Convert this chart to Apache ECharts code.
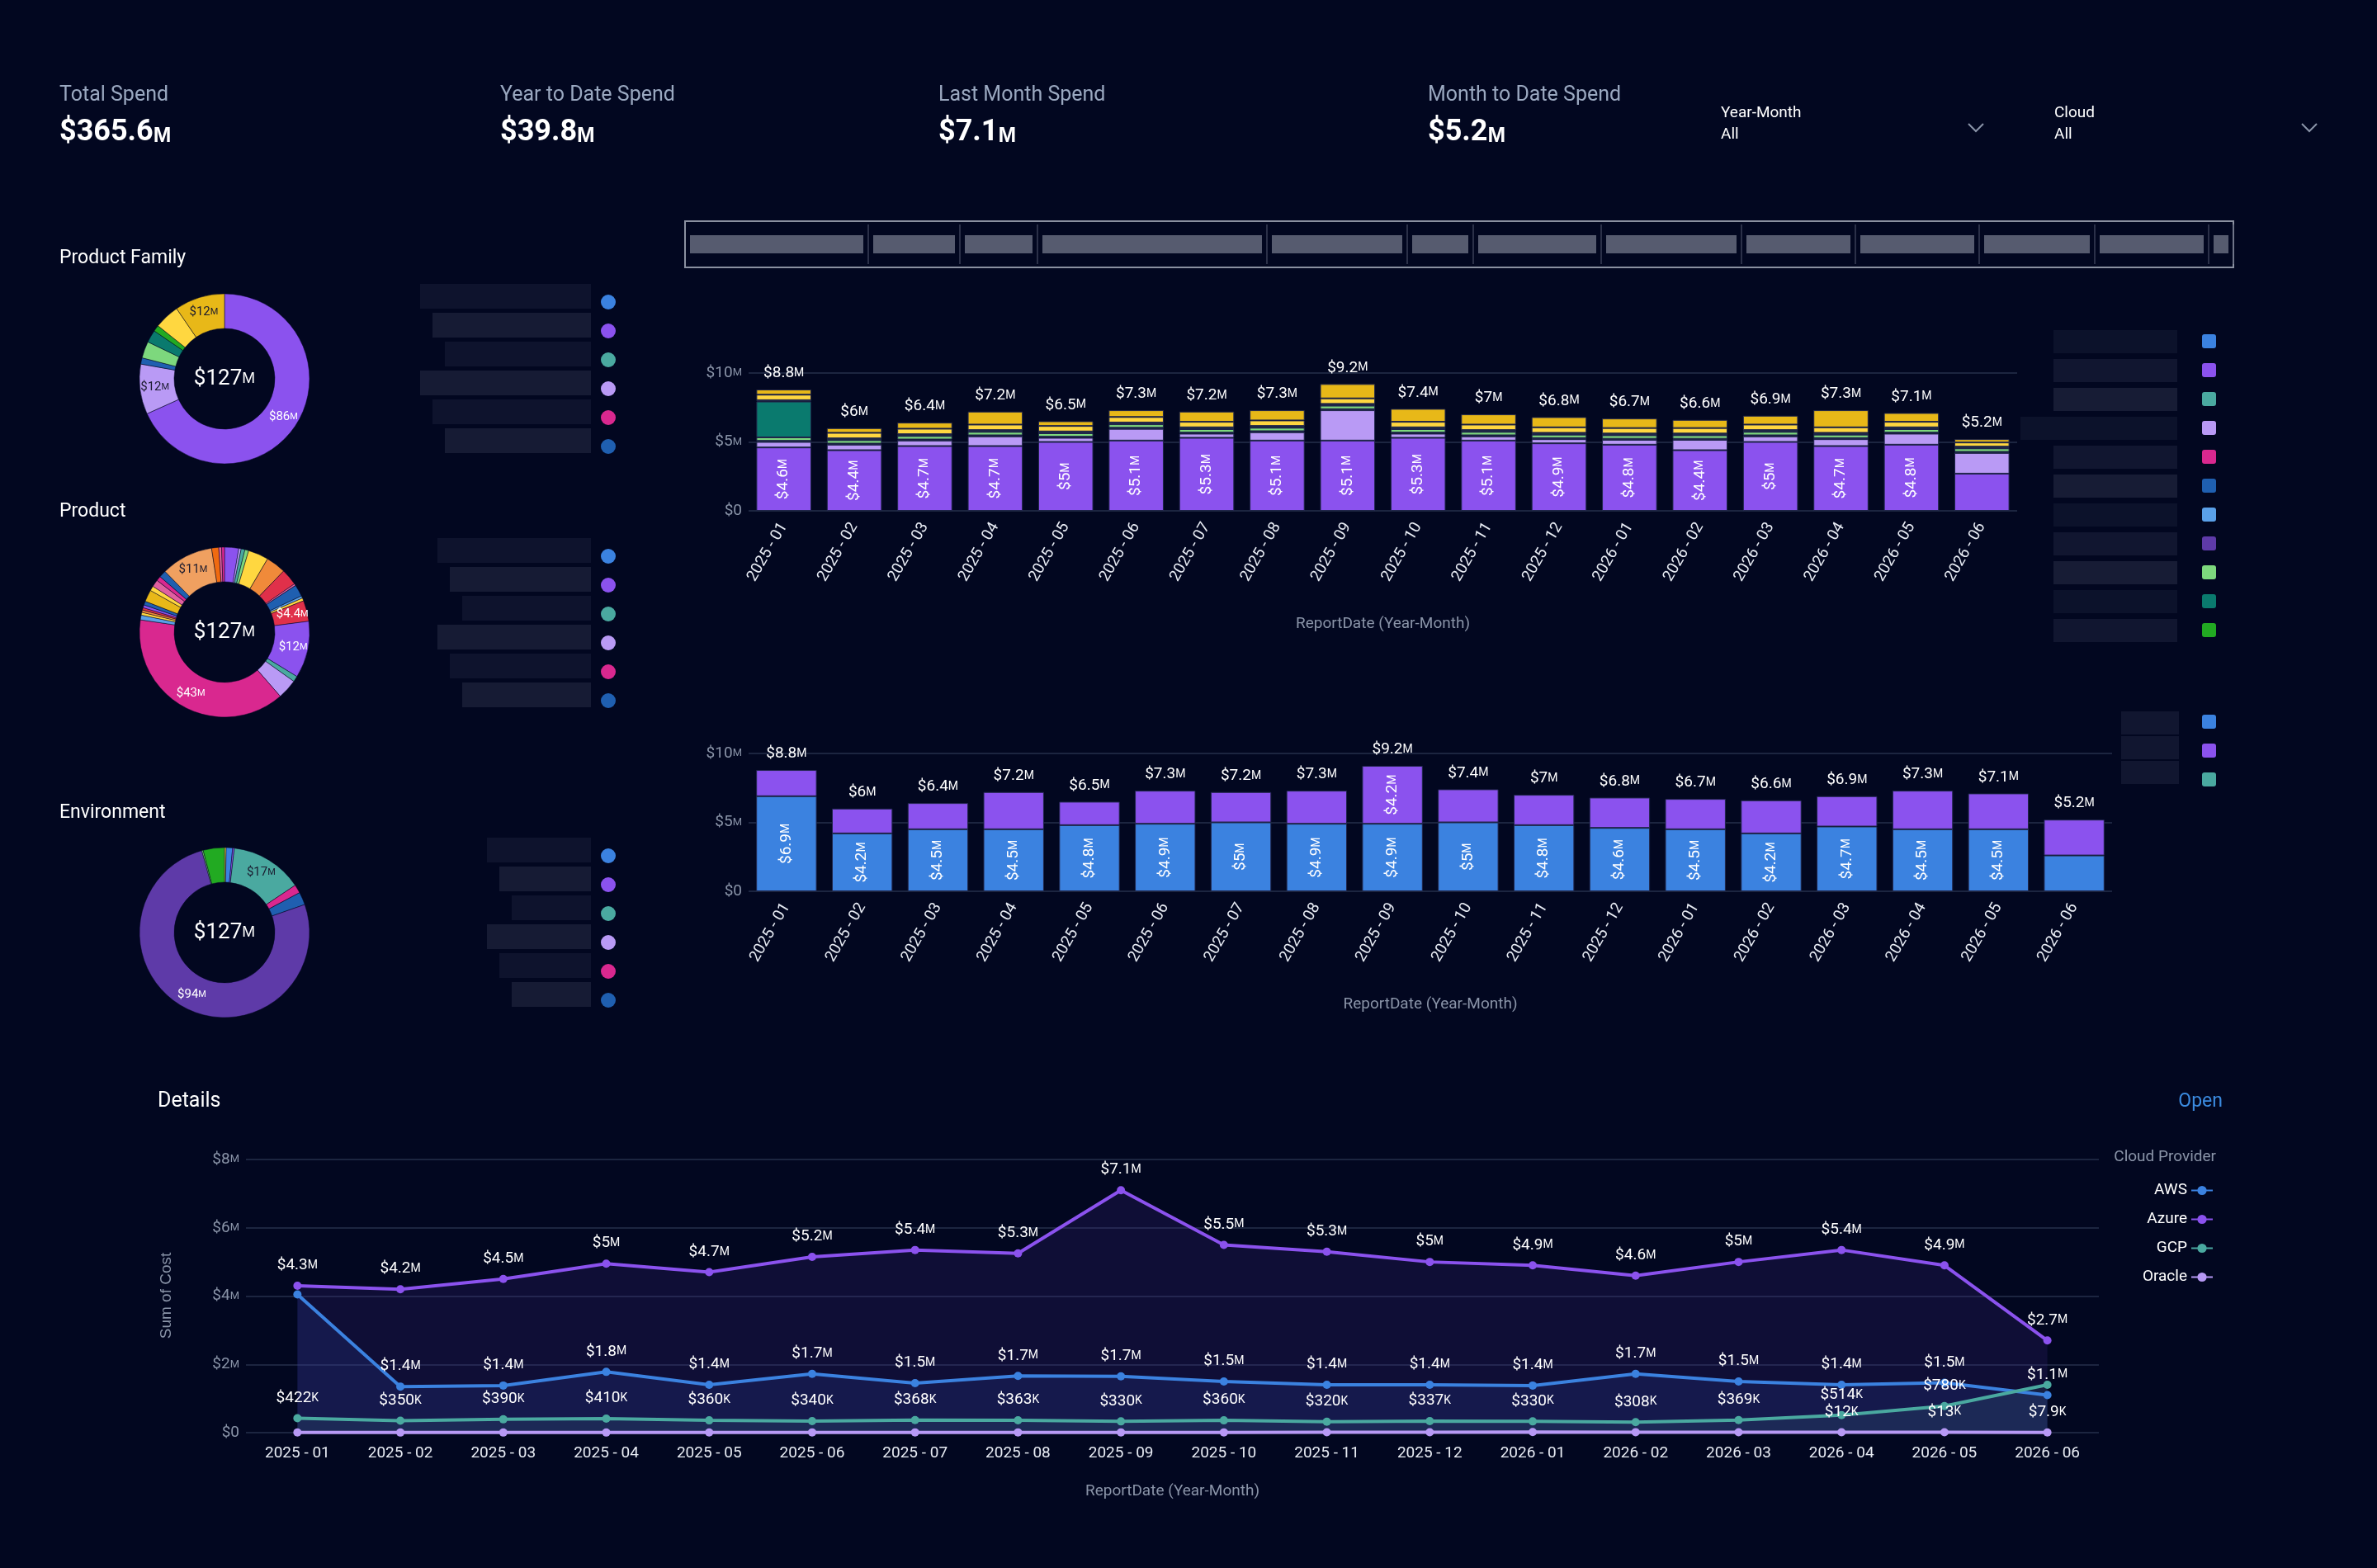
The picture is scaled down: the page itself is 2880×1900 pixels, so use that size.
<!DOCTYPE html>
<html>
<head>
<meta charset="utf-8">
<script src="https://cdn.jsdelivr.net/npm/echarts@6/dist/echarts.min.js"></script>
<style>
  html, body { margin: 0; padding: 0; background: #020720; }
  #main { width: 2880px; height: 1900px; }
</style>
</head>
<body>
<div id="main"></div>
<script>
// ---- data ----
var months = ['2025 - 01','2025 - 02','2025 - 03','2025 - 04','2025 - 05','2025 - 06','2025 - 07','2025 - 08','2025 - 09',
  '2025 - 10','2025 - 11','2025 - 12','2026 - 01','2026 - 02','2026 - 03','2026 - 04','2026 - 05','2026 - 06'];

// first stacked chart (values in $M)
var barTotals   = [8.8, 6, 6.4, 7.2, 6.5, 7.3, 7.2, 7.3, 9.2, 7.4, 7, 6.8, 6.7, 6.6, 6.9, 7.3, 7.1, 5.2];
var famPurple   = [4.6, 4.4, 4.7, 4.7, 5, 5.1, 5.3, 5.1, 5.1, 5.3, 5.1, 4.9, 4.8, 4.4, 5, 4.7, 4.8, 2.7];
var famLavender = [0.4, 0.4, 0.4, 0.7, 0.3, 0.85, 0.3, 0.6, 2.2, 0.3, 0.3, 0.3, 0.35, 0.75, 0.4, 0.5, 0.8, 1.5];
var famDarkBlue = [0.08, 0.08, 0.08, 0.08, 0.08, 0.08, 0.08, 0.08, 0.08, 0.08, 0.08, 0.08, 0.08, 0.08, 0.08, 0.08, 0.08, 0.08];
var famLtGreen  = [0.25, 0.25, 0.25, 0.25, 0.25, 0.25, 0.25, 0.25, 0.25, 0.25, 0.25, 0.25, 0.25, 0.25, 0.25, 0.25, 0.25, 0.25];
var famTeal     = [2.6, 0.03, 0.03, 0.03, 0.03, 0.03, 0.03, 0.03, 0.03, 0.03, 0.03, 0.03, 0.03, 0.03, 0.03, 0.03, 0.03, 0.03];
var famGreen    = [0.1, 0.1, 0.1, 0.1, 0.1, 0.1, 0.1, 0.1, 0.1, 0.1, 0.1, 0.1, 0.1, 0.1, 0.1, 0.1, 0.1, 0.1];
var famYellow   = [0.4, 0.4, 0.4, 0.4, 0.4, 0.4, 0.4, 0.4, 0.4, 0.4, 0.4, 0.4, 0.4, 0.4, 0.4, 0.4, 0.4, 0.3];
var famGold     = [0.37, 0.34, 0.44, 0.94, 0.34, 0.49, 0.74, 0.74, 1.04, 0.94, 0.74, 0.74, 0.69, 0.59, 0.64, 1.24, 0.64, 0.24];

// second stacked chart
var cloudAws   = [6.9, 4.2, 4.5, 4.5, 4.8, 4.9, 5, 4.9, 4.9, 5, 4.8, 4.6, 4.5, 4.2, 4.7, 4.5, 4.5, 2.6];
var cloudAzure = [1.9, 1.8, 1.9, 2.7, 1.7, 2.4, 2.2, 2.4, 4.2, 2.4, 2.2, 2.2, 2.2, 2.4, 2.2, 2.8, 2.6, 2.6];

// line chart
var lineAzure  = [4.3, 4.2, 4.5, 4.95, 4.7, 5.15, 5.35, 5.25, 7.1, 5.5, 5.3, 5.0, 4.9, 4.6, 5.0, 5.35, 4.9, 2.7];
var lineAws    = [4.05, 1.35, 1.38, 1.78, 1.4, 1.72, 1.45, 1.66, 1.65, 1.5, 1.4, 1.4, 1.38, 1.72, 1.5, 1.4, 1.46, 1.1];
var lineGcp    = [0.422, 0.35, 0.39, 0.41, 0.36, 0.34, 0.368, 0.363, 0.33, 0.36, 0.32, 0.337, 0.33, 0.308, 0.369, 0.514, 0.78, 1.4];
var lineOracle = [0.004, 0.0035, 0.0038, 0.0038, 0.0049, 0.0084, 0.0083, 0.0083, 0.0083, 0.0083, 0.012, 0.012, 0.017, 0.015, 0.013, 0.012, 0.013, 0.0079];

// donuts
var familyVals   = [86, 12, 1.5, 4, 3, 1.5, 6, 12];
var familyColors = ['#8b52ee','#b99af5','#1f5fb0','#7dd87d','#0a7a6e','#22aa22','#ffd740','#e8b818'];
var productVals  = [3, 0.5, 0.8, 0.8, 4.3, 4.2, 3.5, 0.4, 2.5, 0.5, 0.6, 4.4, 12, 1.2, 4.2, 43, 1, 0.6, 0.5, 0.5, 0.6, 0.8, 2.5, 1, 1.5, 1, 1.5, 11, 1.5, 0.6, 0.6];
var productColors = ['#8b52ee','#b99af5','#4aa9a0','#7dd87d','#ffd740','#f08a3a','#e0304a','#e060a0','#1f5fb0','#5aa0e8','#ffd740','#e0304a',
  '#8b52ee','#4aa9a0','#b99af5','#d9288f','#5aa0e8','#ffd740','#f08a3a','#e0304a','#8b52ee','#1f5fb0','#e8b818','#ffd740','#e060a0',
  '#d9288f','#1f5fb0','#f0a060','#f06a10','#e060a0','#d9288f'];
var envVals   = [0.4, 1.5, 0.4, 17, 2, 3, 94, 0.3, 5];
var envColors = ['#ffd740','#3b82e0','#8b52ee','#4aa9a0','#d9288f','#1f5fb0','#5e3aa8','#7dd87d','#22aa22'];

var kpiTitles = ['Total Spend','Year to Date Spend','Last Month Spend','Month to Date Spend'];
var kpiValues = ['$365.6', '$39.8', '$7.1', '$5.2'];
var zeros = [0, 0, 0, 0, 0, 0, 0, 0, 0, 0, 0, 0, 0, 0, 0, 0, 0, 0];

// ---- helpers ----
var AX = '#8a94a8';
function money(v) {
  if (v >= 1) return '$' + (Math.round(v * 10) / 10) + '{s|M}';
  var k = v * 1000;
  if (k >= 10) return '$' + Math.round(k) + '{s|K}';
  return '$' + (Math.round(k * 10) / 10) + '{s|K}';
}
function axisMoney(v) { return v === 0 ? '$0' : '$' + v + '{s|M}'; }
var richW = { s: { fontSize: 14, color: '#fff' } };
var richA = { s: { fontSize: 13, color: AX } };
var lightSet = ['#b99af5','#ffd740','#e8b818','#7dd87d','#f0a060','#4aa9a0'];

var chart = echarts.init(document.getElementById('main'));

function yAxis(gi, max, interval) {
  return {
    gridIndex: gi, type: 'value', min: 0, max: max, interval: interval,
    axisLabel: { color: AX, fontSize: 19, formatter: axisMoney, rich: richA },
    splitLine: { lineStyle: { color: '#1c2540', width: 2 } },
    axisLine: { show: false }, axisTick: { show: false }
  };
}
function xAxis(gi, rotate) {
  return {
    gridIndex: gi, type: 'category', data: months,
    name: 'ReportDate (Year-Month)', nameLocation: 'middle',
    nameGap: rotate ? 128 : 62, nameTextStyle: { color: AX, fontSize: 19 },
    axisLabel: { color: '#e8ecf4', fontSize: 19, rotate: rotate, interval: 0, margin: 16 },
    axisLine: { show: false }, axisTick: { show: false }
  };
}
function stackBar(name, data, color, xi, width, labelled) {
  return {
    name: name, type: 'bar', stack: 's' + xi, xAxisIndex: xi, yAxisIndex: xi, data: data, barWidth: width,
    itemStyle: { color: color, borderColor: '#20264a', borderWidth: 1 },
    label: labelled ? {
      show: true, position: 'inside', rotate: 90, color: '#fff', fontSize: 19,
      formatter: function (p) { return p.value >= 3 ? money(p.value) : ''; }, rich: richW
    } : { show: false }
  };
}
function totalSeries(xi, width) {
  return {
    name: 'Total' + xi, type: 'bar', stack: 's' + xi, xAxisIndex: xi, yAxisIndex: xi, data: zeros, barWidth: width,
    itemStyle: { color: 'transparent' },
    label: { show: true, position: 'top', color: '#fff', fontSize: 19, distance: 10,
      formatter: function (p) { return money(barTotals[p.dataIndex]); }, rich: richW }
  };
}
function donut(vals, colors, cx, cy, threshold) {
  return {
    type: 'pie', center: [cx, cy], radius: [61, 103], startAngle: 90,
    data: vals.map(function (v, i) {
      var light = lightSet.indexOf(colors[i]) >= 0;
      return { value: v, itemStyle: { color: colors[i] },
        label: { color: light ? '#1a1a2e' : '#fff' } };
    }),
    itemStyle: { borderColor: '#020720', borderWidth: 0.5 },
    label: { show: true, position: 'inside', fontSize: 15, rich: { s: { fontSize: 11 } },
      formatter: function (p) { return p.value >= threshold ? money(p.value) : ''; } },
    labelLine: { show: false }, emphasis: { disabled: true }, silent: true
  };
}
function lineSeries(name, data, color, area) {
  return {
    name: name, type: 'line', xAxisIndex: 2, yAxisIndex: 2, data: data,
    symbol: 'circle', symbolSize: 10,
    lineStyle: { color: color, width: 4 }, itemStyle: { color: color },
    areaStyle: area ? { color: area, origin: 'start' } : undefined,
    label: { show: true, position: 'top', color: '#fff', fontSize: 19, distance: 10,
      formatter: function (p) { return money(p.value); }, rich: richW },
    labelLayout: { hideOverlap: true }
  };
}

// ---- decorative graphics (titles, blurred legends, boxes) ----
var g = [];
function txt(x, y, s, size, color, align) {
  g.push({ type: 'text', x: x, y: y, style: { text: s, fontSize: size, fill: color,
    fontFamily: 'Roboto, "Noto Sans", sans-serif', textAlign: align || 'left' } });
}
[72, 606, 1137, 1730].forEach(function (x, i) {
  txt(x, 103, kpiTitles[i], 25, '#9aa8c0');
  g.push({ type: 'text', x: x, y: 143, style: { text: kpiValues[i] + '{s|M}', fontSize: 36, fill: '#fff', fontWeight: 'bold',
    fontFamily: 'Roboto, sans-serif', rich: { s: { fontSize: 26, fontWeight: 'bold', fill: '#fff', padding: [8, 0, 0, 0] } } } });
});
[[2085, 'Year-Month', 2394], [2489, 'Cloud', 2798]].forEach(function (f) {
  txt(f[0], 128, f[1], 19, '#fff');
  txt(f[0], 154, 'All', 19, '#fff');
  g.push({ type: 'polyline', shape: { points: [[f[2] - 9, 150], [f[2], 159], [f[2] + 9, 150]] },
    style: { stroke: '#8a94a8', lineWidth: 2, fill: null } });
});
txt(72, 302, 'Product Family', 23, '#fff');
txt(72, 609, 'Product', 23, '#fff');
txt(72, 974, 'Environment', 23, '#fff');
[459, 766, 1130].forEach(function (cy) {
  g.push({ type: 'text', x: 272, y: cy, style: { text: '$127{s|M}', fontSize: 26, fill: '#fff', textAlign: 'center', textVerticalAlign: 'middle',
    fontFamily: 'Roboto, sans-serif', rich: { s: { fontSize: 19, fill: '#fff' } } } });
});
// blurred legend placeholders
var dotCols = ['#3b82e0','#8b52ee','#4aa9a0','#b99af5','#d9288f','#1f5fb0'];
[[366, 509], [674, 530], [1037, 590]].forEach(function (b) {
  for (var r = 0; r < 6; r++) {
    g.push({ type: 'rect', shape: { x: b[1] + (r % 3) * 15, y: b[0] - 22 + r * 35, width: 700 - b[1] + 16 - (r % 3) * 15, height: 30 },
      style: { fill: 'rgba(90,95,120,' + (0.15 + (r % 2) * 0.08) + ')' } });
    g.push({ type: 'circle', shape: { cx: 737, cy: b[0] + r * 35, r: 9 }, style: { fill: dotCols[r] } });
  }
});
var sqCols = ['#3b82e0','#8b52ee','#4aa9a0','#b99af5','#d9288f','#1f5fb0','#5aa0e8','#5e3aa8','#7dd87d','#0a7a6e','#22aa22'];
sqCols.forEach(function (c, i) {
  g.push({ type: 'rect', shape: { x: 2668, y: 405 + i * 35, width: 17, height: 17, r: 3 }, style: { fill: c } });
  g.push({ type: 'rect', shape: { x: 2488 - (i === 3 ? 40 : 0), y: 400 + i * 35, width: 150 + (i === 3 ? 40 : 0), height: 28 },
    style: { fill: 'rgba(90,95,120,' + (0.12 + (i % 3) * 0.06) + ')' } });
});
['#3b82e0','#8b52ee','#4aa9a0'].forEach(function (c, i) {
  g.push({ type: 'rect', shape: { x: 2668, y: 866 + i * 35, width: 17, height: 17, r: 3 }, style: { fill: c } });
  g.push({ type: 'rect', shape: { x: 2570, y: 862 + i * 30, width: 70, height: 28 }, style: { fill: 'rgba(90,95,120,0.18)' } });
});
// top filter strip
g.push({ type: 'rect', shape: { x: 830, y: 268, width: 1876, height: 56 }, style: { fill: 'none', stroke: '#8a90a0', lineWidth: 2 } });
var stripCuts = [830, 1052, 1163, 1257, 1535, 1705, 1785, 1940, 2110, 2248, 2398, 2538, 2676, 2706];
for (var i = 0; i < stripCuts.length - 1; i++) {
  g.push({ type: 'rect', shape: { x: stripCuts[i] + 6, y: 285, width: stripCuts[i + 1] - stripCuts[i] - 12, height: 22 },
    style: { fill: 'rgba(170,175,190,0.5)' } });
  g.push({ type: 'line', shape: { x1: stripCuts[i + 1], y1: 272, x2: stripCuts[i + 1], y2: 320 }, style: { stroke: '#555a70', lineWidth: 1 } });
}
txt(191, 1322, 'Details', 25, '#fff');
txt(2693, 1324, 'Open', 23, '#3b8be0', 'right');
txt(2685, 1393, 'Cloud Provider', 19, AX, 'right');
g.push({ type: 'text', x: 202, y: 1570, rotation: Math.PI / 2, style: { text: 'Sum of Cost', fontSize: 19, fill: AX, textAlign: 'center', textVerticalAlign: 'middle' } });

var option = {
  backgroundColor: '#020720',
  animation: false,
  textStyle: { fontFamily: 'Roboto, "Noto Sans", sans-serif' },
  graphic: g,
  grid: [
    { left: 907, width: 1537, top: 452, height: 167 },
    { left: 907, width: 1652, top: 913, height: 167 },
    { left: 298, width: 2245, top: 1405, height: 331 }
  ],
  xAxis: [xAxis(0, 60), xAxis(1, 60), xAxis(2, 0)],
  yAxis: [yAxis(0, 10, 5), yAxis(1, 10, 5), yAxis(2, 8, 2)],
  legend: {
    data: ['AWS', 'Azure', 'GCP', 'Oracle'], orient: 'vertical', right: 193, top: 1428, align: 'right',
    itemGap: 16, itemWidth: 26, itemHeight: 14, textStyle: { color: '#fff', fontSize: 19 }
  },
  series: [
    stackBar('Purple', famPurple, '#8b52ee', 0, '78%', true),
    stackBar('Lavender', famLavender, '#b99af5', 0, '78%'),
    stackBar('DarkBlue', famDarkBlue, '#1f5fb0', 0, '78%'),
    stackBar('LightGreen', famLtGreen, '#7dd87d', 0, '78%'),
    stackBar('Teal', famTeal, '#0a7a6e', 0, '78%'),
    stackBar('Green', famGreen, '#22aa22', 0, '78%'),
    stackBar('Yellow', famYellow, '#ffd740', 0, '78%'),
    stackBar('Gold', famGold, '#e8b818', 0, '78%'),
    totalSeries(0, '78%'),
    stackBar('AWS2', cloudAws, '#3b82e0', 1, '80%', true),
    stackBar('Azure2', cloudAzure, '#8b52ee', 1, '80%', true),
    totalSeries(1, '80%'),
    donut(familyVals, familyColors, 272, 459, 10),
    donut(productVals, productColors, 272, 766, 4.4),
    donut(envVals, envColors, 272, 1130, 10),
    lineSeries('Azure', lineAzure, '#8b52ee', 'rgba(70,45,150,0.28)'),
    lineSeries('AWS', lineAws, '#3b82e0', 'rgba(50,80,180,0.25)'),
    lineSeries('GCP', lineGcp, '#4aa9a0', 'rgba(70,140,150,0.2)'),
    lineSeries('Oracle', lineOracle, '#b799f5', null)
  ]
};
chart.setOption(option);
</script>
</body>
</html>
